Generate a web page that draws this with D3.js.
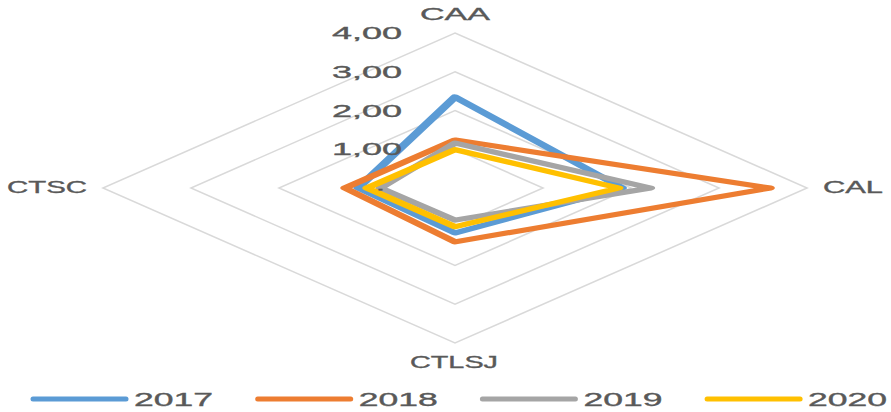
<!DOCTYPE html>
<html>
<head>
<meta charset="utf-8">
<script src="https://cdn.jsdelivr.net/npm/d3@7/dist/d3.min.js"></script>
<style>
    html, body { margin: 0; padding: 0; background: #fff; }
    svg text { font-family: "Liberation Sans", Arial, sans-serif; fill: #595959; stroke: #595959; stroke-width: 0.35; }
</style>
</head>
<body>
<div id="chart"></div>
<script>
    "use strict";

    // axes of the radar, clockwise from top
    const axes = ["CAA", "CAL", "CTLSJ", "CTSC"];
    const years = ["2017", "2018", "2019", "2020"];
    const colors = ["#5B9BD5", "#ED7D31", "#A5A5A5", "#FFC000"];

    const v2017 = [2.35, 1.90, 1.16, 1.10];
    const v2018 = [1.24, 3.58, 1.39, 1.25];
    const v2019 = [1.16, 2.22, 0.83, 0.85];
    const v2020 = [0.99, 1.86, 1.00, 1.00];

    const tickValues = [0, 1, 2, 3, 4];
    const tickLabels = ["-", "1,00", "2,00", "3,00", "4,00"];

    const seriesValues = [v2017, v2018, v2019, v2020];

    const width = 891;
    const height = 412;
    const cx = 455, cy = 188;
    const stretch = 1.9; // the original picture was widened, strokes included

    // the picture is stretched horizontally, so two radial scales
    const rX = d3.scaleLinear().domain([0, 4]).range([0, 352]);
    const rY = d3.scaleLinear().domain([0, 4]).range([0, 155]);

    const angle = i => i * 2 * Math.PI / axes.length;
    const px = (v, i) => cx + rX(v) * Math.sin(angle(i));
    const py = (v, i) => cy - rY(v) * Math.cos(angle(i));

    const svg = d3.select("#chart").append("svg")
        .attr("width", width)
        .attr("height", height);

    // drawn in un-stretched space, then widened by the group transform
    const line = d3.line()
        .x(d => (px(d.v, d.i) - cx) / stretch)
        .y(d => py(d.v, d.i))
        .curve(d3.curveLinearClosed);

    const plot = svg.append("g")
        .attr("transform", "translate(" + cx + ",0) scale(" + stretch + ",1)");

    // grid rings
    plot.append("g").selectAll("path.grid")
        .data(tickValues.slice(1))
        .enter()
        .append("path")
        .attr("class", "grid")
        .attr("d", t => line(axes.map((a, i) => ({ v: t, i }))))
        .attr("fill", "none")
        .attr("stroke", "#d9d9d9")
        .attr("stroke-width", 1.3);

    // series
    plot.append("g").selectAll("path.series")
        .data(seriesValues)
        .enter()
        .append("path")
        .attr("class", "series")
        .attr("d", vals => line(vals.map((v, i) => ({ v, i }))))
        .attr("fill", "none")
        .attr("stroke", (d, i) => colors[i])
        .attr("stroke-width", 5)
        .attr("stroke-linejoin", "round");

    // tick labels
    svg.append("g").selectAll("text.tick")
        .data(tickValues)
        .enter()
        .append("text")
        .attr("class", "tick")
        .attr("x", t => t === 0 ? 383 : 402)
        .attr("y", t => py(t, 0) + 6)
        .attr("text-anchor", "end")
        .attr("font-size", 16)
        .attr("textLength", t => t === 0 ? null : 70)
        .attr("lengthAdjust", "spacingAndGlyphs")
        .text((t, i) => tickLabels[i]);

    // axis labels
    const axisLabelPos = [
        { x: 420, y: 20, w: 70 },
        { x: 823, y: 193, w: 60 },
        { x: 410, y: 368, w: 88 },
        { x: 7, y: 193, w: 80 }
    ];
    svg.append("g").selectAll("text.axis")
        .data(axes)
        .enter()
        .append("text")
        .attr("class", "axis")
        .attr("x", (d, i) => axisLabelPos[i].x)
        .attr("y", (d, i) => axisLabelPos[i].y)
        .attr("font-size", 17)
        .attr("textLength", (d, i) => axisLabelPos[i].w)
        .attr("lengthAdjust", "spacingAndGlyphs")
        .text(d => d);

    // legend
    const legend = svg.append("g").selectAll("g.legend")
        .data(years)
        .enter()
        .append("g")
        .attr("class", "legend")
        .attr("transform", (d, i) => "translate(" + (31 + i * 224.7) + ",399)");

    legend.append("line")
        .attr("x1", 2).attr("x2", 95)
        .attr("y1", 0).attr("y2", 0)
        .attr("stroke", (d, i) => colors[i])
        .attr("stroke-width", 5)
        .attr("stroke-linecap", "round");

    legend.append("text")
        .attr("x", 103)
        .attr("y", 7)
        .attr("font-size", 18)
        .attr("textLength", 79)
        .attr("lengthAdjust", "spacingAndGlyphs")
        .text(d => d);
</script>
</body>
</html>
